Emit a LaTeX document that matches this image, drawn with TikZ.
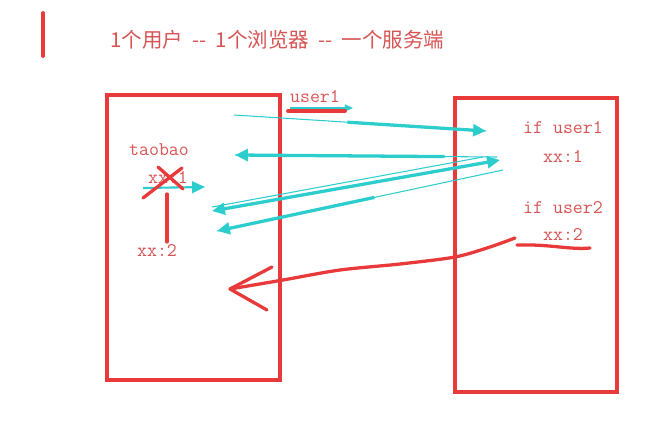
\documentclass[tikz,border=0pt]{standalone}
\usepackage{fontspec}
\newfontfamily\cjk{Noto Sans CJK SC}
\usepackage{xcolor}
\usetikzlibrary{arrows.meta,calc}
\definecolor{boxred}{RGB}{232,58,58}
\definecolor{textred}{RGB}{214,84,84}
\definecolor{arrowcyan}{RGB}{45,205,205}
\tikzset{
  note/.style={text=textred, font=\ttfamily\fontsize{16.5}{16.5}\selectfont, inner sep=0pt},
  pen/.style={draw=boxred, line width=2.8pt, line cap=round, line join=round},
  ray/.style={draw=arrowcyan, line width=2.8pt, -{Triangle[length=11pt,width=10pt]}},
  thinray/.style={draw=arrowcyan, line width=0.9pt},
}
\begin{document}
\begin{tikzpicture}[x=0.03cm,y=-0.03cm]
\useasboundingbox (0,0) rectangle (646,429);

% title
\draw[pen, line width=3.2pt] (43,13)--(43,56);
\node[anchor=west, text=textred, inner sep=0pt, font=\cjk\fontsize{17.5}{17.5}\selectfont] (title) at (110,40) {1个用户\ \ --\ \ 1个浏览器\ \ --\ \ 一个服务端};

% browser and server
\draw[boxred, line width=3pt] (107,95) rectangle (280,380);
\draw[boxred, line width=3pt] (455,98) rectangle (617,392);

% texts
\node[note] (taobao) at (159,150) {taobao};
\node[note] (oldkey) at (168,177) {xx:1};
\node[note] (newkey) at (157,250) {xx:2};
\node[note] (userlbl) at (315,97) {user1};
\node[note] (ifuserA) at (563,128) {if user1};
\node[note] (keyA) at (563,156) {xx:1};
\node[note] (ifuserB) at (563,208) {if user2};
\node[note] (keyB) at (563,234) {xx:2};

% requests and answers
\coordinate (reqA) at (234,115);  \coordinate (srvA) at (486,131);
\coordinate (srvB) at (497,157);  \coordinate (cliB) at (235,155);
\coordinate (cliC) at (212,211);  \coordinate (srvC) at (500,160);
\coordinate (srvD) at (503,170);  \coordinate (cliD) at (217,231);
\coordinate (keyL) at (143,188);  \coordinate (keyR) at (205,187);

\draw[thinray] (reqA)--(srvA);
\draw[ray] ($(reqA)!0.45!(srvA)$)--(srvA);
\draw[thinray] (srvB)--(cliB);
\draw[ray] ($(srvB)!0.2!(cliB)$)--(cliB);
\draw[thinray] (483,157)--(212,207);
\draw[ray, {Triangle[length=11pt,width=10pt]}-{Triangle[length=11pt,width=10pt]}] (cliC)--(srvC);
\draw[thinray] (srvD)--(cliD);
\draw[ray] ($(srvD)!0.45!(cliD)$)--(cliD);
\draw[ray, line width=1.8pt] (keyL)--(keyR);

% user1 mark
\draw[arrowcyan, line width=1pt, -{Triangle[length=7pt,width=6pt]}] (290,108)--(353,108);
\draw[pen, line width=3.2pt] (288,111)--(345,111);

% crossed key
\draw[pen] (143,198)--(182,168);
\draw[pen] (158,167)--(183,189);
\draw[pen] (167,194)--(167,242);

% back to the browser
\draw[pen] (517,245) .. controls (550,244) and (570,250) .. (590,248);
\draw[pen] plot[smooth] coordinates {(515,238) (490,247) (455,257) (400,264) (340,270) (283,280) (230,289)};
\draw[pen] (272,267)--(230,289)--(267,310);
\end{tikzpicture}
\end{document}
